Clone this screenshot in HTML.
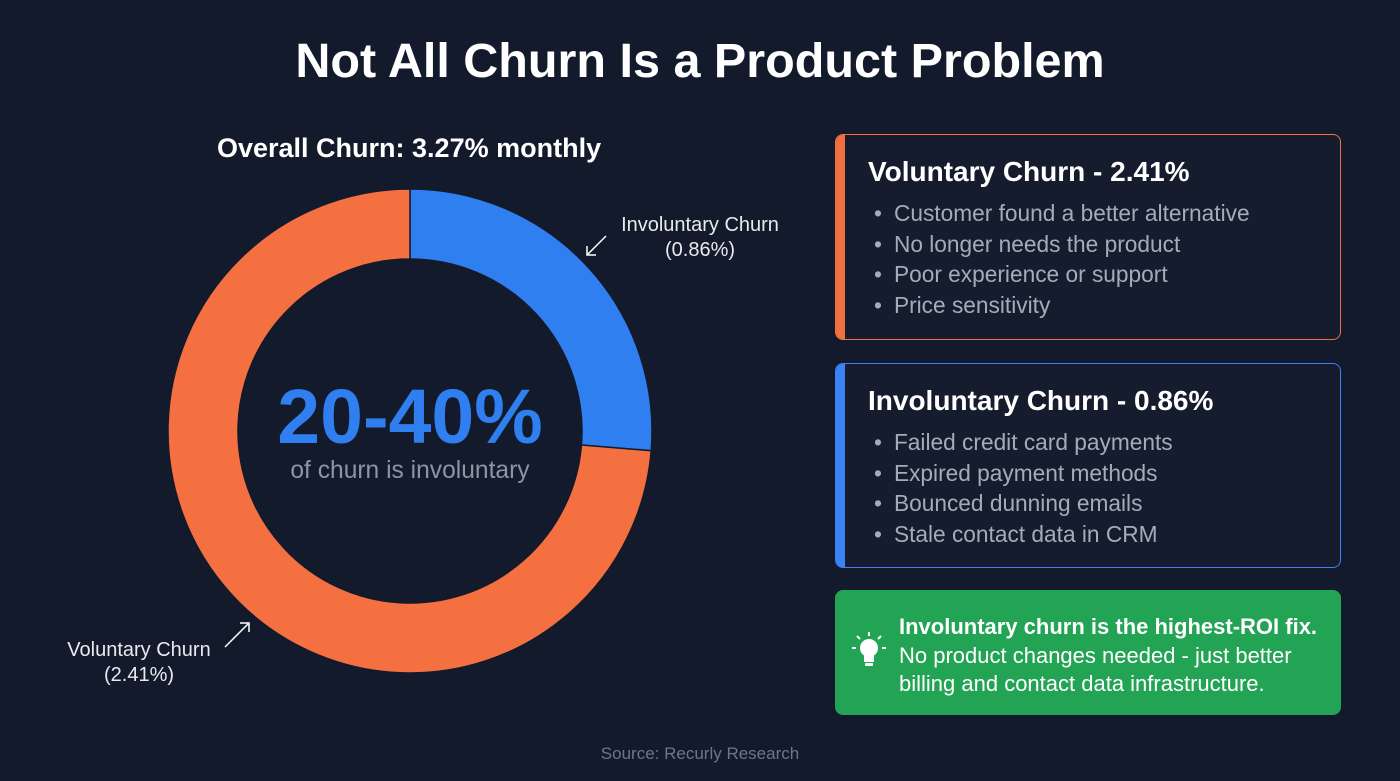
<!DOCTYPE html>
<html><head><meta charset="utf-8"><style>
body{margin:0;width:1400px;height:781px;background:#131a2b;font-family:"Liberation Sans",sans-serif;overflow:hidden;position:relative;color:#fff}
.abs{position:absolute}
h1{position:absolute;left:0;width:1400px;top:33px;margin:0;text-align:center;font-size:48.5px;font-weight:bold;color:#fff}
.card{position:absolute;left:835px;width:506px;border-radius:8px;box-sizing:border-box;overflow:hidden;background:#151c2e}
.card .bar{position:absolute;left:0;top:0;bottom:0;width:9px}
.card h2{margin:0;position:absolute;left:32px;top:21px;font-size:28px;font-weight:bold;color:#fff}
.card ul{position:absolute;left:38px;top:63px;margin:0;padding:0;list-style:none;font-size:22.7px;color:#a5acb8;line-height:30.7px}
.card li:before{content:"•";margin-right:12px}
</style></head><body>
<h1>Not All Churn Is a Product Problem</h1>
<div class="abs" style="left:217px;top:133px;font-size:27px;font-weight:bold">Overall Churn: 3.27% monthly</div>
<svg class="abs" style="left:0;top:0" width="820" height="781">
<g id="slices"></g>
<text x="410" y="443" text-anchor="middle" font-size="77" font-weight="bold" fill="#2f7ff0">20-40%</text>
<text x="410" y="478" text-anchor="middle" font-size="24.6" fill="#8d95a5">of churn is involuntary</text>
<text x="700" y="231" text-anchor="middle" font-size="20" fill="#e8eaee"><tspan x="700">Involuntary Churn</tspan><tspan x="700" dy="25">(0.86%)</tspan></text>
<line x1="606" y1="236" x2="587" y2="255" stroke="#fff" stroke-width="1.5"/><polyline points="587,246 587,255 596,255" fill="none" stroke="#fff" stroke-width="1.5"/>
<text x="139" y="656" text-anchor="middle" font-size="20" fill="#e8eaee"><tspan x="139">Voluntary Churn</tspan><tspan x="139" dy="25">(2.41%)</tspan></text>
<line x1="225" y1="647" x2="249" y2="623" stroke="#fff" stroke-width="1.5"/><polyline points="240,623 249,623 249,632" fill="none" stroke="#fff" stroke-width="1.5"/>
</svg>
<div class="card" style="top:134px;height:206px;border:1.5px solid #f07040">
<div class="bar" style="background:#f07040"></div>
<h2>Voluntary Churn - 2.41%</h2>
<ul><li>Customer found a better alternative</li><li>No longer needs the product</li><li>Poor experience or support</li><li>Price sensitivity</li></ul></div>
<div class="card" style="top:363px;height:205px;border:1.5px solid #3b82f6">
<div class="bar" style="background:#3b82f6"></div>
<h2>Involuntary Churn - 0.86%</h2>
<ul><li>Failed credit card payments</li><li>Expired payment methods</li><li>Bounced dunning emails</li><li>Stale contact data in CRM</li></ul></div>
<div class="abs" style="left:835px;top:590px;width:506px;height:125px;background:#23a455;border-radius:8px">
<svg class="abs" style="left:14px;top:42px" width="40" height="40">
<circle cx="20" cy="16" r="9" fill="#fff"/><rect x="15" y="22" width="10" height="8" fill="#fff"/><rect x="16" y="31" width="8" height="3" rx="1" fill="#fff"/>
<line x1="20" y1="0" x2="20" y2="4" stroke="#fff" stroke-width="2"/><line x1="8" y1="4" x2="11" y2="7" stroke="#fff" stroke-width="2"/><line x1="32" y1="4" x2="29" y2="7" stroke="#fff" stroke-width="2"/>
<line x1="3" y1="16" x2="7" y2="16" stroke="#fff" stroke-width="2"/><line x1="33" y1="16" x2="37" y2="16" stroke="#fff" stroke-width="2"/></svg>
<div class="abs" style="left:64px;top:23px;font-size:22px;line-height:28.5px;color:#fff"><b>Involuntary churn is the highest-ROI fix.</b><br>No product changes needed - just better<br>billing and contact data infrastructure.</div>
</div>
<div class="abs" style="left:0;width:1400px;top:744px;text-align:center;font-size:17px;color:#6e7687">Source: Recurly Research</div>
<script>
const categories=["Involuntary Churn","Voluntary Churn"];
const values=[0.86,2.41];
const colors=["#2f7ff0","#f47040"];
const cx=410,cy=431,R=242,r=172;
const g=document.getElementById('slices');
const total=values.reduce((a,b)=>a+b,0);
let a0=0;
function pt(rad,a){return [cx+rad*Math.sin(a),cy-rad*Math.cos(a)];}
values.forEach((v,i)=>{
 const a1=a0+v/total*2*Math.PI;
 const large=(a1-a0)>Math.PI?1:0;
 const p1=pt(R,a0),p2=pt(R,a1),p3=pt(r,a1),p4=pt(r,a0);
 const p=document.createElementNS('http://www.w3.org/2000/svg','path');
 p.setAttribute('d',`M${p1}A${R},${R} 0 ${large} 1 ${p2}L${p3}A${r},${r} 0 ${large} 0 ${p4}Z`);
 p.setAttribute('fill',colors[i]);
 p.setAttribute('stroke','#131a2b');
 p.setAttribute('stroke-width','1.5');
 
 
 g.appendChild(p);
 a0=a1;
});
</script>
</body></html>
